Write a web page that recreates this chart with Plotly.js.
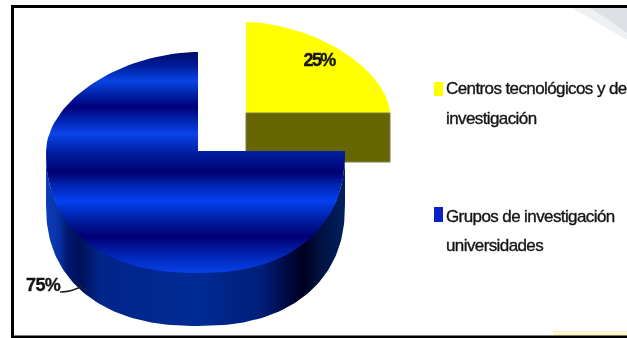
<!DOCTYPE html>
<html>
<head>
<meta charset="utf-8">
<script src="https://cdn.plot.ly/plotly-3.0.1.min.js"></script>
<style>
html,body{margin:0;padding:0;background:#fff}
#chart{width:627px;height:338px}
.annotation-text{filter:blur(0.5px);letter-spacing:-0.6px;paint-order:stroke;stroke:#141414;stroke-width:0.35px}
.annotation:nth-child(-n+2) .annotation-text{letter-spacing:-1.6px}
.scatterlayer{filter:blur(0.4px)}
</style>
</head>
<body>
<div id="chart"></div>
<script>
// Reparto de grupos por tipo de entidad
const categories = ['Centros tecnológicos y de investigación', 'Grupos de investigación universidades'];
const shares = [25, 75];
const legendLines = [['Centros tecnológicos y de', 'investigación'], ['Grupos de investigación', 'universidades']];

const TAU = Math.PI * 2;

// Point on a rounded pie rim; angle is measured from 12 o'clock, growing clockwise
function rim(g, a, yShift) {
  const s = Math.sin(a), c = Math.cos(a);
  const up = c >= 0;
  const p = up ? g.pUp : g.pDown;
  const ry = up ? g.ryUp : g.ryDown;
  const rx = s >= 0 ? g.rxRight : g.rxLeft;
  return [
    g.cx + rx * Math.sign(s) * Math.pow(Math.abs(s), 2 / p),
    g.cy - ry * Math.sign(c) * Math.pow(Math.abs(c), 2 / p) + (yShift || 0)
  ];
}
function arc(g, from, to, yShift) {
  const pts = [], n = 120;
  for (let i = 0; i <= n; i++) {
    const a = from + (to - from) * i / n;
    pts.push(rim(g, a, typeof yShift === 'function' ? yShift(a) : yShift));
  }
  return pts;
}
function area(pts, fill) {
  return Object.assign({
    type: 'scatter', mode: 'lines', fill: 'toself', hoverinfo: 'skip', showlegend: false,
    x: pts.map(p => p[0]), y: pts.map(p => p[1]), line: {width: 0, color: 'rgba(0,0,0,0)'}
  }, fill);
}
function bands(type, start, stop, stops) {
  const colorscale = stops.map(s => [(s[0] - start) / (stop - start), s[1]]);
  return {fillgradient: {type, start, stop, colorscale}, fillcolor: 'rgba(0,0,0,0)'};
}

const small = {cx: 246, cy: 113, rxLeft: 144, rxRight: 144, ryUp: 91, ryDown: 91, pUp: 1.75, pDown: 1.75};
const big = {cx: 198, cy: 151, rxLeft: 152, rxRight: 147, ryUp: 99, ryDown: 122, pUp: 1.85, pDown: 2.3};
const depth = 53;

// The small slice runs clockwise from 12 o'clock, the large one fills the remainder
const smallSweep = shares[0] / 100 * TAU;
const bigSweep = shares[1] / 100 * TAU;

const smallTop = [[small.cx, small.cy]].concat(arc(small, 0, smallSweep));
smallTop.push([small.cx, small.cy]);
const smallEnd = rim(small, smallSweep);
const smallFront = [[small.cx, small.cy], smallEnd, [smallEnd[0], smallEnd[1] + 49], [small.cx, small.cy + 49], [small.cx, small.cy]];

const bigStart = smallSweep;
const bigEnd = smallSweep + bigSweep;
const bigTop = [[big.cx, big.cy]].concat(arc(big, bigStart, bigEnd));
bigTop.push([big.cx, big.cy]);
// Visible wall: its upper edge tucks under the top face so no seam shows along the rim
const tuck = a => -3 * Math.abs(Math.cos(a));
const wall = arc(big, bigStart, TAU * 0.75, tuck).concat(arc(big, TAU * 0.75, bigStart, depth));
wall.push(wall[0]);

const topBands = bands('vertical', 52, 273, [
  [52, '#000c66'], [66, '#001c9c'], [81, '#0844e4'], [94, '#0022a8'], [107, '#00007c'],
  [120, '#0024b0'], [134, '#0a44ea'], [152, '#0020a4'], [172, '#000070'],
  [186, '#0026b4'], [201, '#0440f0'], [220, '#001ea0'], [237, '#000074'],
  [255, '#0026b4'], [273, '#0840e8']
]);
const wallBands = bands('horizontal', 46, 345, [
  [46, '#0a3cb8'], [58, '#0834a8'], [68, '#001870'], [80, '#001058'], [100, '#00258a'],
  [200, '#002a94'], [262, '#001e78'], [285, '#000a48'], [303, '#000020'],
  [320, '#00113f'], [345, '#00205f']
]);

const traces = [
  area(smallTop, {fillcolor: '#ffff00'}),
  area(smallFront, {fillcolor: '#666600', line: {width: 1, color: '#7a7a50'}}),
  area(wall, wallBands),
  area(bigTop, topBands)
];

const textColor = '#141414';
function label(text, x, y, size) {
  return {
    text, x, y, xref: 'x', yref: 'y', showarrow: false, xanchor: 'left', yanchor: 'middle',
    font: {family: 'Liberation Sans, Arial, sans-serif', size, color: textColor}
  };
}

const annotations = [
  label('<b>' + shares[0] + '%</b>', 300, 60, 18),
  label('<b>' + shares[1] + '%</b>', 24, 285, 18),
  label(legendLines[0][0], 444, 88, 17),
  label(legendLines[0][1], 444, 118, 17),
  label(legendLines[1][0], 444, 216, 17),
  label(legendLines[1][1], 444, 245, 17)
];

const shapes = [
  // Pale background remnants at the right-hand corners
  {type: 'path', path: 'M 572 8 L 627 8 L 627 40 Q 600 24 572 8 Z', fillcolor: '#eef0f2', line: {width: 0}, layer: 'below'},
  {type: 'path', path: 'M 590 8 L 627 8 L 627 33 Q 610 20 590 8 Z', fillcolor: '#dde1e5', line: {width: 0}, layer: 'below'},
  {type: 'rect', x0: 553, x1: 627, y0: 331, y1: 336, fillcolor: '#fdf8c8', line: {width: 0}, layer: 'below'},
  // Frame, open on the right
  {type: 'path', path: 'M 627 6.5 L 12.5 6.5 L 12.5 337 L 627 337', line: {color: '#000', width: 3}, layer: 'above'},
  // Leader for the large slice
  {type: 'path', path: 'M 60 292 Q 72 292 82 286', line: {color: '#222', width: 1.5}, layer: 'above'},
  // Legend keys
  {type: 'rect', x0: 434, x1: 443, y0: 82, y1: 96, fillcolor: '#ffff00', line: {width: 0}},
  {type: 'rect', x0: 434, x1: 443, y0: 207, y1: 222, fillcolor: '#0a22c8', line: {width: 0}}
];

Plotly.newPlot('chart', traces, {
  width: 627, height: 338,
  margin: {l: 0, r: 0, t: 0, b: 0},
  paper_bgcolor: '#fff', plot_bgcolor: '#fff',
  showlegend: false,
  xaxis: {range: [0, 627], visible: false, fixedrange: true},
  yaxis: {range: [338, 0], visible: false, fixedrange: true},
  annotations, shapes
}, {displayModeBar: false, staticPlot: true});
</script>
</body>
</html>
